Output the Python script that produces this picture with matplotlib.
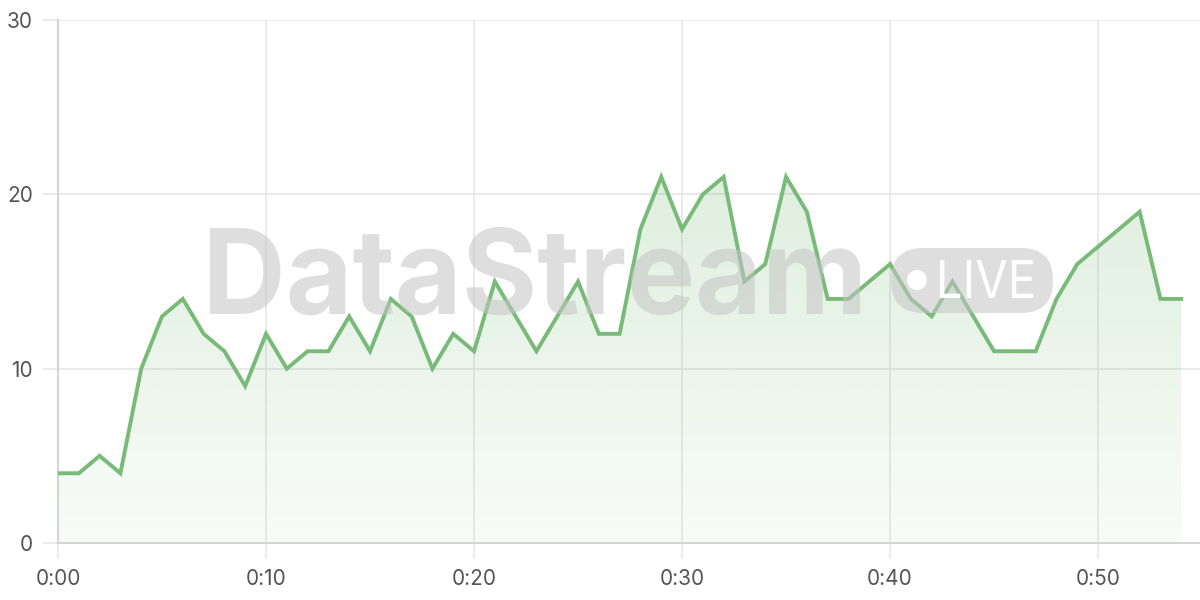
import matplotlib.pyplot as plt
import numpy as np
from matplotlib.patches import FancyBboxPatch, Circle, PathPatch
from matplotlib.textpath import TextPath
from matplotlib.font_manager import FontProperties
from matplotlib.transforms import Affine2D

# values per minute, 0:00 .. 0:54
minutes = np.arange(0, 55)
values = [4, 4, 5, 4, 10, 13, 14, 12, 11, 9,
          12, 10, 11, 11, 13, 11, 14, 13, 10, 12,
          11, 15, 13, 11, 13, 15, 12, 12, 18, 21,
          18, 20, 21, 15, 16, 21, 19, 14, 14, 15,
          16, 14, 13, 15, 13, 11, 11, 11, 14, 16,
          17, 18, 19, 14, 14]
xticks = [0, 10, 20, 30, 40, 50]
xlabels = ["0:00", "0:10", "0:20", "0:30", "0:40", "0:50"]
yticks = [0, 10, 20, 30]

plt.rcParams['font.family'] = ['Inter', 'DejaVu Sans']

green = (120/255, 187/255, 120/255)
grid_c = "#e6e6e6"
txt_c = "#555555"
wm_c = "#c4c4c4"

fig = plt.figure(figsize=(12, 6), dpi=100)
ax = fig.add_axes([58/1200, 1 - 543/600, 1 - 58/1200, (543 - 20)/600])

# pixel coords (origin bottom left) -> figure
px = Affine2D().scale(1/1200, 1/600) + fig.transFigure

# watermark "DataStream", fitted to the box it takes in the picture
fp = FontProperties(family="Inter", weight="bold")
tp = TextPath((0, 0), "DataStream", size=100, prop=fp)
cap = TextPath((0, 0), "D", size=100, prop=fp).get_extents().height
ext = tp.get_extents()
fit = Affine2D().translate(-ext.x0, 0).scale(650 / ext.width, 86 / cap).translate(210, 600 - 314)
fig.patches.append(PathPatch(tp, transform=fit + px, facecolor=wm_c, alpha=0.55,
                             edgecolor="none", zorder=0))

# "LIVE" badge
fig.patches.append(FancyBboxPatch((891, 600 - 313), 162, 65,
                                  boxstyle="round,pad=0,rounding_size=32",
                                  transform=px, facecolor=wm_c, alpha=0.55,
                                  edgecolor="none", zorder=0))
fig.patches.append(Circle((917, 600 - 280), 10, transform=px,
                          facecolor="white", edgecolor="none", zorder=0.1))
fp2 = FontProperties(family="Inter")
tl = TextPath((0, 0), "LIVE", size=100, prop=fp2)
e2 = tl.get_extents()
fit2 = Affine2D().translate(-e2.x0, -e2.y0).scale(93 / e2.width, 38 / e2.height).translate(940, 600 - 298)
fig.patches.append(PathPatch(tl, transform=fit2 + px, facecolor="white",
                             edgecolor="none", zorder=0.1))

ax.patch.set_alpha(0)

# gradient fill under the line
poly = ax.fill_between(minutes, values, 0, facecolor="none", edgecolor="none")
ymax = max(values)
grad = np.zeros((256, 1, 4))
grad[:, 0, 0] = green[0]
grad[:, 0, 1] = green[1]
grad[:, 0, 2] = green[2]
grad[:, 0, 3] = np.linspace(0.05, 0.24, 256)
img = ax.imshow(grad, extent=[0, minutes[-1], 0, ymax], aspect="auto",
                origin="lower", zorder=2)
img.set_clip_path(poly.get_paths()[0], transform=ax.transData)

ax.plot(minutes, values, color=green, linewidth=2.8, zorder=3,
        solid_joinstyle="miter")

ax.set_xlim(0, 54.9)
ax.set_ylim(0, 30)
ax.set_xticks(xticks)
ax.set_xticklabels(xlabels)
ax.set_yticks(yticks)
ax.grid(True, color=grid_c, linewidth=1.2)
ax.set_axisbelow(True)
for s in ["top", "right"]:
    ax.spines[s].set_visible(False)
ax.spines["left"].set_color("#d4d4d4")
ax.spines["bottom"].set_color("#d4d4d4")
ax.spines["left"].set_linewidth(1.5)
ax.spines["bottom"].set_linewidth(1.5)
ax.tick_params(axis="both", length=11, color=grid_c, width=1.2,
               labelsize=15, labelcolor=txt_c)
ax.tick_params(axis="x", pad=8)
ax.tick_params(axis="y", pad=7)

fig.savefig("out.png", dpi=100)
